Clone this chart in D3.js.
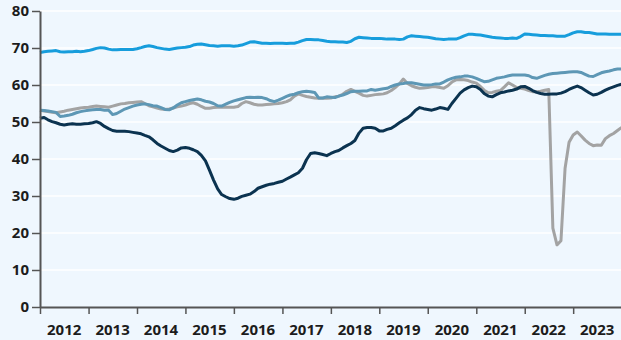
<!DOCTYPE html>
<html>
<head>
<meta charset="utf-8">
<script src="https://cdn.jsdelivr.net/npm/d3@7"></script>
<style>
  html, body { margin: 0; padding: 0; background: #eff7fe; }
  svg { display: block; }
</style>
</head>
<body>
<svg id="chart" width="621" height="340"></svg>
<script>
// Year labels along the bottom and value ticks on the left
const yearLabels = ["2012","2013","2014","2015","2016","2017","2018","2019","2020","2021","2022","2023"];
const yTicks = [0, 10, 20, 30, 40, 50, 60, 70, 80];

// Monthly values, Jan 2012 .. Jan 2024 (one row per year)
const seriesTop = [
  68.8, 69.0, 69.1, 69.2, 69.3, 69.0, 68.9, 69.0, 69.0, 69.1, 69.0, 69.1,
  69.3, 69.6, 69.9, 70.1, 70.0, 69.7, 69.5, 69.5, 69.6, 69.6, 69.6, 69.6,
  69.8, 70.1, 70.4, 70.6, 70.4, 70.1, 69.9, 69.7, 69.6, 69.8, 70.0, 70.1,
  70.2, 70.4, 70.8, 71.0, 71.1, 70.9, 70.7, 70.6, 70.5, 70.6, 70.6, 70.6,
  70.5, 70.6, 70.8, 71.2, 71.6, 71.7, 71.5, 71.3, 71.3, 71.2, 71.3, 71.3,
  71.3, 71.2, 71.3, 71.3, 71.6, 72.0, 72.3, 72.3, 72.2, 72.2, 72.0, 71.8,
  71.7, 71.7, 71.6, 71.6, 71.5, 71.8, 72.5, 72.9, 72.8, 72.7, 72.6, 72.6,
  72.6, 72.5, 72.4, 72.4, 72.4, 72.3, 72.4, 73.0, 73.3, 73.2, 73.1, 73.0,
  72.9, 72.7, 72.5, 72.4, 72.3, 72.4, 72.4, 72.4, 72.8, 73.3, 73.7, 73.7,
  73.6, 73.5, 73.3, 73.1, 72.9, 72.8, 72.7, 72.6, 72.6, 72.7, 72.6, 73.1,
  73.8, 73.7, 73.6, 73.5, 73.4, 73.4, 73.3, 73.3, 73.2, 73.2, 73.2, 73.6,
  74.1, 74.4, 74.4, 74.2, 74.2, 74.0, 73.8, 73.8, 73.8, 73.7, 73.7, 73.7,
  73.7
];

const seriesSteel = [
  53.2, 53.1, 53.0, 52.8, 52.6, 51.5, 51.6, 51.8, 52.1, 52.5, 52.8, 53.0,
  53.2, 53.3, 53.4, 53.4, 53.2, 53.2, 52.0, 52.3, 52.9, 53.5, 53.9, 54.3,
  54.6, 54.8, 54.9, 54.7, 54.4, 54.3, 53.9, 53.4, 53.3, 53.8, 54.6, 55.2,
  55.5, 55.8, 56.0, 56.2, 56.0, 55.6, 55.4, 55.0, 54.4, 54.3, 54.8, 55.3,
  55.7, 56.0, 56.3, 56.6, 56.7, 56.6, 56.7, 56.6, 56.3, 55.8, 55.5, 55.9,
  56.4, 56.9, 57.3, 57.5, 57.9, 58.2, 58.3, 58.2, 58.0, 56.5, 56.5, 56.8,
  56.7, 56.6, 57.0, 57.3, 57.7, 58.2, 58.3, 58.3, 58.4, 58.4, 58.8, 58.6,
  58.8, 59.0, 59.1, 59.6, 60.0, 60.3, 60.4, 60.6, 60.6, 60.4, 60.2, 60.0,
  60.0, 60.1, 60.3, 60.3, 60.8, 61.4, 61.8, 62.1, 62.2, 62.4, 62.4, 62.2,
  61.8, 61.3, 60.9, 61.0, 61.4, 61.8, 62.0, 62.2, 62.5, 62.7, 62.7, 62.7,
  62.7, 62.5, 62.0, 61.8, 62.2, 62.6, 62.9, 63.1, 63.2, 63.3, 63.4, 63.5,
  63.6, 63.6, 63.4, 62.9, 62.4, 62.3, 62.8, 63.3, 63.6, 63.8, 64.1, 64.3,
  64.3
];

const seriesGrey = [
  53.2, 53.0, 52.8, 52.6, 52.5, 52.7, 52.9, 53.2, 53.4, 53.6, 53.8, 53.9,
  54.0, 54.2, 54.3, 54.2, 54.1, 54.0, 54.3, 54.6, 54.9, 55.0, 55.2, 55.3,
  55.4, 55.5, 55.0, 54.4, 54.1, 53.8, 53.5, 53.4, 53.5, 53.8, 54.1, 54.3,
  54.6, 55.0, 55.2, 54.8, 54.2, 53.7, 53.7, 53.9, 54.0, 54.0, 54.0, 54.0,
  54.0, 54.2, 55.0, 55.5, 55.2, 54.8, 54.6, 54.6, 54.7, 54.8, 54.9, 55.0,
  55.2, 55.5, 56.0, 57.0, 57.6, 57.2, 56.9, 56.7, 56.5, 56.4, 56.4, 56.4,
  56.5, 56.8, 57.0, 57.5, 58.3, 58.8, 58.3, 57.8, 57.2, 57.0, 57.2, 57.4,
  57.5, 57.6, 57.9, 58.5, 59.3, 60.3, 61.6, 60.4, 59.8, 59.4, 59.1, 59.2,
  59.3, 59.5, 59.5, 59.3, 59.1, 59.8, 60.8, 61.4, 61.5, 61.4, 61.2, 60.8,
  60.5, 59.6, 58.6, 57.9, 58.0, 58.3, 58.5, 59.5, 60.6, 60.0, 59.3, 59.1,
  58.9, 58.5, 58.2, 58.2, 58.3, 58.6, 58.8, 21.3, 16.8, 17.9, 37.5, 44.5,
  46.5, 47.3, 46.3, 45.1, 44.2, 43.6, 43.8, 43.7, 45.5, 46.3, 46.9, 47.7,
  48.5
];

const seriesNavy = [
  51.0, 51.2, 50.6, 50.1, 49.8, 49.4, 49.2, 49.4, 49.5, 49.4, 49.4, 49.5,
  49.6, 49.8, 50.1, 49.6, 48.8, 48.2, 47.7, 47.5, 47.5, 47.5, 47.4, 47.2,
  47.0, 46.8, 46.4, 46.0, 45.2, 44.2, 43.5, 42.9, 42.3, 42.0, 42.4, 43.0,
  43.1, 42.9, 42.5, 42.0, 41.0, 39.5, 37.0, 34.3, 31.9, 30.4, 29.8, 29.3,
  29.1, 29.4, 29.9, 30.2, 30.5, 31.2, 32.1, 32.5, 32.9, 33.2, 33.4, 33.7,
  34.0, 34.6, 35.1, 35.7, 36.3, 37.5, 39.8, 41.5, 41.7, 41.5, 41.2, 40.9,
  41.5, 42.0, 42.3, 43.0, 43.6, 44.2, 45.0, 47.0, 48.3, 48.5, 48.5, 48.3,
  47.6, 47.6, 48.0, 48.3, 49.0, 49.8, 50.5, 51.1, 52.0, 53.2, 53.9, 53.6,
  53.4, 53.2, 53.5, 53.9, 53.7, 53.4, 55.0, 56.4, 57.8, 58.7, 59.3, 59.7,
  59.5, 58.8, 57.7, 57.0, 56.8, 57.4, 57.9, 58.1, 58.4, 58.6, 58.9, 59.5,
  59.6, 59.1, 58.5, 58.0, 57.7, 57.5, 57.5, 57.6, 57.6, 57.8, 58.2, 58.8,
  59.3, 59.7, 59.3, 58.6, 57.9, 57.3, 57.5, 58.0, 58.6, 59.1, 59.5, 59.9,
  60.2
];

// Monthly time points matching the series above
const months = d3.range(seriesTop.length).map(i => new Date(2012, i, 1));

const svg = d3.select("#chart");

const x = d3.scaleTime()
  .domain([new Date(2012, 0, 1), new Date(2024, 0, 1)])
  .range([40, 621.6]);

const y = d3.scaleLinear()
  .domain([0, 80])
  .range([307, 11]);

const fontFamily = "'Open Sans', 'DejaVu Sans', sans-serif";

// Horizontal white gridlines
svg.append("g")
  .selectAll("line")
  .data(yTicks.filter(v => v > 0))
  .join("line")
  .attr("x1", 40)
  .attr("x2", 621)
  .attr("y1", d => y(d))
  .attr("y2", d => y(d))
  .attr("stroke", "#ffffff")
  .attr("stroke-width", 1.5);

// Series lines
const line = d3.line()
  .x((d, i) => x(months[i]))
  .y(d => y(d))
  .curve(d3.curveLinear);

const series = [
  { values: seriesGrey,  color: "#a3a3a3" },
  { values: seriesSteel, color: "#5d97b5" },
  { values: seriesNavy,  color: "#0b3350" },
  { values: seriesTop,   color: "#179ddc" }
];

svg.append("g")
  .selectAll("path")
  .data(series)
  .join("path")
  .attr("d", d => line(d.values))
  .attr("fill", "none")
  .attr("stroke", d => d.color)
  .attr("stroke-width", 3)
  .attr("stroke-linejoin", "round")
  .attr("stroke-linecap", "butt");

// Y axis
const yAxis = svg.append("g")
  .attr("transform", "translate(40,0)")
  .call(d3.axisLeft(y).tickValues(yTicks).tickSize(8).tickSizeOuter(0).tickPadding(3));

// X axis with yearly ticks
const xAxis = svg.append("g")
  .attr("transform", "translate(0,307)")
  .call(d3.axisBottom(x)
    .ticks(d3.timeYear.every(1))
    .tickSize(7)
    .tickSizeOuter(0)
    .tickFormat(""));

[yAxis, xAxis].forEach(g => {
  g.select(".domain").attr("stroke", "#555555").attr("stroke-width", 2);
  g.selectAll(".tick line").attr("stroke", "#555555").attr("stroke-width", 1.5);
});

yAxis.selectAll(".tick text")
  .attr("font-family", fontFamily)
  .attr("font-weight", 700)
  .attr("font-size", 15)
  .attr("fill", "#1c1c1c");

// Year labels centred within each year
svg.append("g")
  .selectAll("text")
  .data(yearLabels)
  .join("text")
  .attr("x", d => x(new Date(+d, 6, 1)))
  .attr("y", 335)
  .attr("text-anchor", "middle")
  .attr("font-family", fontFamily)
  .attr("font-weight", 700)
  .attr("font-size", 15)
  .attr("fill", "#1c1c1c")
  .text(d => d);
</script>
</body>
</html>
